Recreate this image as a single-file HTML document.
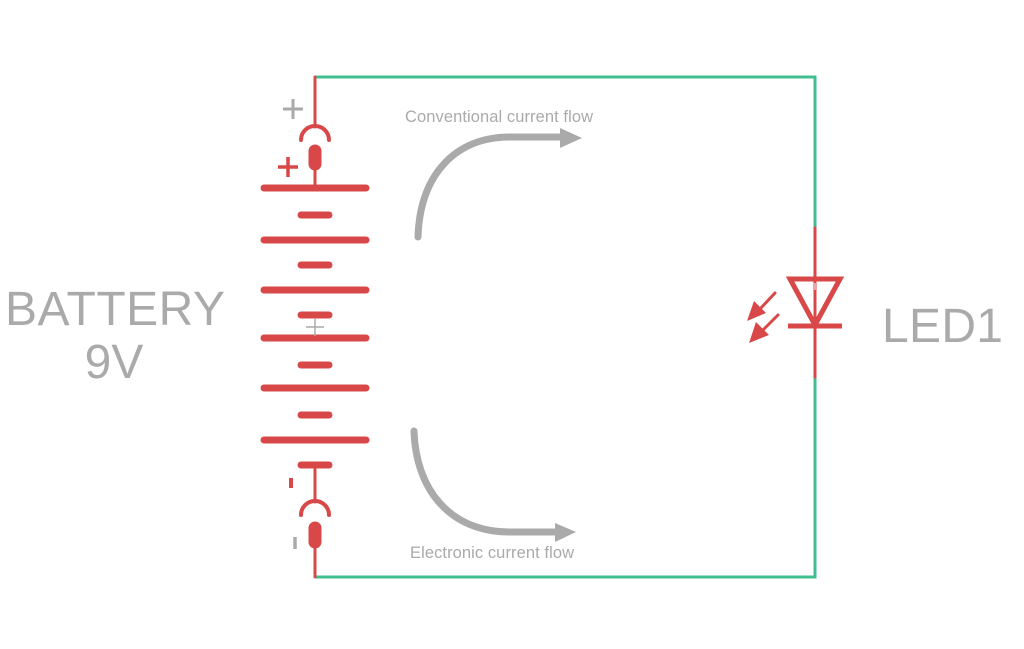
<!DOCTYPE html>
<html><head><meta charset="utf-8"><style>html,body{margin:0;padding:0;background:#fff;width:1024px;height:649px;overflow:hidden}</style></head><body>
<svg width="1024" height="649" viewBox="0 0 1024 649" xmlns="http://www.w3.org/2000/svg">
<g fill="none" stroke="#3fbf8f" stroke-width="3">
<polyline points="315,77 815,77 815,232"/>
<polyline points="815,373 815,577 315,577"/>
</g>
<g stroke="#d94848" fill="none" stroke-linecap="round">
<line x1="315" y1="77" x2="315" y2="127" stroke-width="3"/>
<path d="M301,140 A14,14 0 0 1 329,140" stroke-width="4"/>
<line x1="315" y1="151" x2="315" y2="164" stroke-width="13"/>
<line x1="315" y1="165" x2="315" y2="188" stroke-width="3"/>
<line x1="315" y1="465" x2="315" y2="502" stroke-width="3"/>
<path d="M301,515 A14,14 0 0 1 329,515" stroke-width="4"/>
<line x1="315" y1="528" x2="315" y2="542" stroke-width="13"/>
<line x1="315" y1="545" x2="315" y2="577" stroke-width="3"/>
<g stroke-width="7">
<line x1="264" y1="188" x2="366" y2="188"/><line x1="301" y1="215" x2="329" y2="215"/>
<line x1="264" y1="240" x2="366" y2="240"/><line x1="301" y1="265" x2="329" y2="265"/>
<line x1="264" y1="290" x2="366" y2="290"/><line x1="301" y1="315" x2="329" y2="315"/>
<line x1="264" y1="338" x2="366" y2="338"/><line x1="301" y1="365" x2="329" y2="365"/>
<line x1="264" y1="388" x2="366" y2="388"/><line x1="301" y1="415" x2="329" y2="415"/>
<line x1="264" y1="440" x2="366" y2="440"/><line x1="301" y1="465" x2="329" y2="465"/>
</g>
<line x1="278" y1="167" x2="298" y2="167" stroke-width="3.5" stroke-linecap="butt"/>
<line x1="288" y1="157" x2="288" y2="177" stroke-width="3.5" stroke-linecap="butt"/>
<line x1="291" y1="478" x2="291" y2="488" stroke-width="4" stroke-linecap="butt"/>
<line x1="815" y1="228" x2="815" y2="377" stroke-width="3"/>
<polygon points="790,279 840,279 815,325" stroke-width="5" stroke-linejoin="miter"/>
<line x1="788" y1="326" x2="842" y2="326" stroke-width="5" stroke-linecap="butt"/>
<line x1="775" y1="293" x2="760" y2="309" stroke-width="3"/>
<line x1="778" y1="315" x2="762" y2="331" stroke-width="3"/>
</g>
<g fill="#d94848">
<polygon points="747,321 754,301 766,313"/>
<polygon points="749,343 756,322 769,335"/>
</g>
<g stroke="#aaa" stroke-width="3">
<line x1="283" y1="109" x2="303" y2="109"/><line x1="293" y1="99" x2="293" y2="119"/>
<line x1="295" y1="537" x2="295" y2="549" stroke-width="3.5"/>
</g>
<g stroke="#aaa" stroke-width="1.5">
<line x1="306" y1="327" x2="324" y2="327"/><line x1="315" y1="318" x2="315" y2="336"/>
</g>
<line x1="815" y1="283" x2="815" y2="290" stroke="#fff" stroke-width="1"/>
<g fill="none" stroke="#aaa" stroke-width="7" stroke-linecap="round">
<path d="M418,237 C420,175 455,137 510,137 L562,137"/>
<path d="M414,431 C416,490 450,532 510,532 L557,532"/>
</g>
<g fill="#aaa">
<polygon points="560,128 582,138 560,148"/>
<polygon points="555,523 576,532 555,542"/>
</g>
<g fill="#aaa" font-family="Liberation Sans, sans-serif">
<text x="405" y="122" font-size="16.5" textLength="188">Conventional current flow</text>
<text x="410" y="558" font-size="16.5" textLength="164">Electronic current flow</text>
<text x="5" y="325" font-size="48" textLength="220">BATTERY</text>
<text x="114" y="378" font-size="48" text-anchor="middle">9V</text>
<text x="882" y="342" font-size="48" textLength="121">LED1</text>
</g>
</svg>
</body></html>
